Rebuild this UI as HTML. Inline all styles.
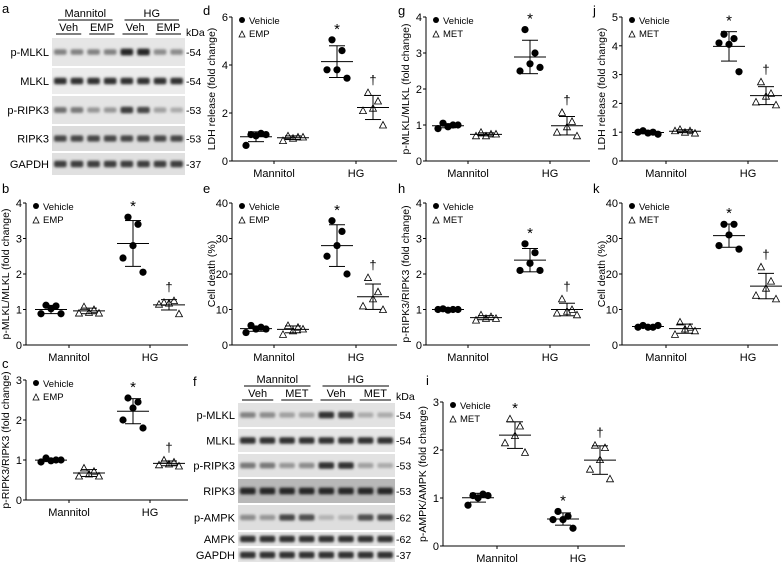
<!DOCTYPE html>
<html><head><meta charset="utf-8"><style>
html,body{margin:0;padding:0;background:#fff}
svg{display:block;font-family:"Liberation Sans",Arial,sans-serif}
</style></head><body>
<svg id="fig" width="783" height="564" viewBox="0 0 783 564" xmlns="http://www.w3.org/2000/svg">
<defs><filter id="blur" x="-20%" y="-100%" width="140%" height="300%"><feGaussianBlur stdDeviation="1.2"/></filter></defs>
</svg>
<script>
// ---- data arrays ----
const categories = ["Mannitol","HG"];
const b_veh_m=[1.12,1.1,1.02,0.88,0.88], b_trt_m=[1.08,1.0,0.92,0.9,0.9], b_veh_h=[3.6,3.4,2.8,2.45,2.05], b_trt_h=[1.2,1.25,1.18,1.15,0.88];
const c_veh_m=[1.05,1.0,0.98,0.95,1.0], c_trt_m=[0.8,0.72,0.65,0.6,0.6], c_veh_h=[2.55,2.45,2.3,2.0,1.8], c_trt_h=[1.0,0.95,0.9,0.88,0.85];
const d_veh_m=[1.1,1.15,1.05,0.65,1.1], d_trt_m=[1.05,1.0,0.95,0.85,1.0], d_veh_h=[5.05,4.6,3.8,3.8,3.45], d_trt_h=[2.85,2.5,2.2,2.1,1.5];
const e_veh_m=[5.5,5,4.5,3.5,4.5], e_trt_m=[5.5,5,4,3,4.5], e_veh_h=[35,32,28,25,20], e_trt_h=[19,15,13,11,10];
const g_veh_m=[1.05,1.0,0.95,0.9,1.0], g_trt_m=[0.8,0.75,0.7,0.7,0.75], g_veh_h=[3.65,3.0,2.7,2.5,2.6], g_trt_h=[1.35,1.1,0.95,0.8,0.7];
const h_veh_m=[1.02,1.0,0.98,1.0,1.0], h_trt_m=[0.85,0.8,0.75,0.7,0.75], h_veh_h=[2.85,2.6,2.3,2.1,2.1], h_trt_h=[1.3,1.0,0.95,0.9,0.85];
const i_veh_m=[1.05,1.08,1.0,0.85,1.05], i_trt_m=[2.65,2.5,2.3,2.15,1.95], i_veh_h=[0.72,0.62,0.55,0.55,0.37], i_trt_h=[2.1,2.05,1.8,1.6,1.4];
const j_veh_m=[1.05,1.0,0.97,1.0,0.93], j_trt_m=[1.1,1.05,1.0,1.05,0.97], j_veh_h=[4.4,4.25,4.05,4.1,3.1], j_trt_h=[2.75,2.35,2.25,2.05,1.95];
const k_veh_m=[5.5,5,5,5,5.5], k_trt_m=[6.5,5,4.5,3,4], k_veh_h=[34,34,31,28,27], k_trt_h=[22,18,16,14,13];
const ticks4=[0,1,2,3,4], ticks3=[0,1,2,3], ticks6=[0,2,4,6], ticks5=[0,1,2,3,4,5], ticks40=[0,10,20,30,40];

const NS="http://www.w3.org/2000/svg", svg=document.getElementById('fig');
function mk(tag,attrs,parent,txt){const e=document.createElementNS(NS,tag);for(const k in attrs)e.setAttribute(k,attrs[k]);if(txt!==undefined)e.textContent=txt;(parent||svg).appendChild(e);return e;}
function mean(a){return a.reduce((s,v)=>s+v,0)/a.length;}
function sd(a){const m=mean(a);return Math.sqrt(a.reduce((s,v)=>s+(v-m)*(v-m),0)/(a.length-1));}
const jit=[-5,5,0,-10,10];

function panel(p){
  const g=mk('g',{});
  
  
  const y=v=>p.y0-(v-p.ticks[0])/(p.ticks[p.ticks.length-1]-p.ticks[0])*(p.y0-p.y1);
  mk('text',{x:p.lx,y:p.ly,'font-size':13},g,p.letter);
  const ax=mk('line',{x1:p.ax,y1:p.y0,x2:p.ax,y2:p.y1,stroke:'#000','stroke-width':1},g);
  
  const xx=mk('line',{x1:p.ax,y1:p.y0,x2:p.xend,y2:p.y0,stroke:'#000','stroke-width':1},g);
  
  p.ticks.forEach(t=>{mk('line',{x1:p.ax-3,x2:p.ax,y1:y(t),y2:y(t),stroke:'#000'},g);
    const tl=mk('text',{x:p.ax-4,y:y(t)+4,'font-size':11,'text-anchor':'end'},g,t);
    });
  categories.forEach((c,i)=>{mk('line',{x1:p.cx[i],x2:p.cx[i],y1:p.y0,y2:p.y0+3,stroke:'#000'},g);
    const cl=mk('text',{x:p.cx[i],y:p.y0+16,'font-size':11,'text-anchor':'middle'},g,c);
    });
  const yt=mk('text',{transform:`translate(${p.ax-17},${(p.y0+p.y1)/2}) rotate(-90)`,'font-size':10.5,'text-anchor':'middle'},g,p.title);
  
  const lg=mk('g',{},g);
  mk('circle',{cx:p.ax+10,cy:p.y1+3,r:3},lg);mk('text',{x:p.ax+17,y:p.y1+7,'font-size':9.5},lg,'Vehicle');
  mk('path',{d:`M${p.ax+7},${p.y1+20} l3,-6 l3,6z`,fill:'none',stroke:'#000','stroke-width':0.8},lg);
  mk('text',{x:p.ax+17,y:p.y1+20,'font-size':9.5},lg,p.trt);
  p.series.forEach(s=>{
    const sg=mk('g',{},g);
    const m=mean(s.v),d=sd(s.v);
    s.v.forEach((v,k)=>{const px=s.x+jit[k];
      if(s.tri){const pt=mk('path',{d:`M${px-3.5},${y(v)+3} l3.5,-6.5 l3.5,6.5z`,fill:'#fff',stroke:'#000','stroke-width':0.8},sg);}
      else{const pt=mk('circle',{cx:px,cy:y(v),r:3.6},sg);}});
    mk('line',{x1:s.x-16,x2:s.x+16,y1:y(m),y2:y(m),stroke:'#000'},sg);
    mk('line',{x1:s.x,x2:s.x,y1:y(m-d),y2:y(m+d),stroke:'#000'},sg);
    mk('line',{x1:s.x-8,x2:s.x+8,y1:y(m-d),y2:y(m-d),stroke:'#000'},sg);
    mk('line',{x1:s.x-8,x2:s.x+8,y1:y(m+d),y2:y(m+d),stroke:'#000'},sg);
    if(s.mark){const top=Math.max(...s.v,m+d);
      const mt=mk('text',{x:s.x,y:y(top)-(s.mark==='*'?6:8),'font-size':s.mark==='*'?15:13,'text-anchor':'middle'},sg,s.mark);
      }
  });
}
function S(vm,tm,vh,th,xs,mk){return [{name:'vehicle-mannitol',v:vm,x:xs[0]},{name:'treated-mannitol',v:tm,x:xs[1],tri:1,mark:mk[1]},{name:'vehicle-hg',v:vh,x:xs[2],mark:mk[2]},{name:'treated-hg',v:th,x:xs[3],tri:1,mark:mk[3]}];}
const colB=[51,89,133,169], colD=[256,293,337,373], colG=[448,486,530,567], colJ=[648,685,729,766], colI=[478,515,563,600];
const std=[null,null,'*','†'];
panel({letter:'b',lx:2,ly:193,ax:26,y0:345,y1:203,xend:188,cx:[69,150],ticks:ticks4,title:'p-MLKL/MLKL (fold change)',trt:'EMP',series:S(b_veh_m,b_trt_m,b_veh_h,b_trt_h,colB,std)});
panel({letter:'c',lx:2,ly:368,ax:26,y0:500,y1:380,xend:188,cx:[69,150],ticks:ticks3,title:'p-RIPK3/RIPK3 (fold change)',trt:'EMP',series:S(c_veh_m,c_trt_m,c_veh_h,c_trt_h,colB,std)});
panel({letter:'d',lx:203,ly:15,ax:232,y0:161,y1:17,xend:397,cx:[274,356],ticks:ticks6,title:'LDH release (fold change)',trt:'EMP',series:S(d_veh_m,d_trt_m,d_veh_h,d_trt_h,colD,std)});
panel({letter:'e',lx:203,ly:193,ax:232,y0:345,y1:203,xend:397,cx:[274,356],ticks:ticks40,title:'Cell death (%)',trt:'EMP',series:S(e_veh_m,e_trt_m,e_veh_h,e_trt_h,colD,std)});
panel({letter:'g',lx:398,ly:15,ax:426,y0:161,y1:17,xend:590,cx:[468,550],ticks:ticks4,title:'p-MLKL/MLKL (fold change)',trt:'MET',series:S(g_veh_m,g_trt_m,g_veh_h,g_trt_h,colG,std)});
panel({letter:'h',lx:398,ly:193,ax:426,y0:345,y1:203,xend:590,cx:[468,550],ticks:ticks4,title:'p-RIPK3/RIPK3 (fold change)',trt:'MET',series:S(h_veh_m,h_trt_m,h_veh_h,h_trt_h,colG,std)});
panel({letter:'i',lx:426,ly:385,ax:443,y0:546,y1:402,xend:625,cx:[497,578],ticks:ticks3,title:'p-AMPK/AMPK (fold change)',trt:'MET',series:S(i_veh_m,i_trt_m,i_veh_h,i_trt_h,colI,[null,'*','*','†'])});
panel({letter:'j',lx:593,ly:15,ax:622,y0:161,y1:17,xend:778,cx:[666,748],ticks:ticks5,title:'LDH release (fold change)',trt:'MET',series:S(j_veh_m,j_trt_m,j_veh_h,j_trt_h,colJ,std)});
panel({letter:'k',lx:593,ly:193,ax:622,y0:345,y1:203,xend:778,cx:[666,748],ticks:ticks40,title:'Cell death (%)',trt:'MET',series:S(k_veh_m,k_trt_m,k_veh_h,k_trt_h,colJ,std)});

// ---- western blots ----
const blotA_rows=["p-MLKL","MLKL","p-RIPK3","RIPK3","GAPDH"], blotA_kda=["54","54","53","53","37"];
const blotA_int=[[.5,.5,.5,.5,.95,.95,.45,.45],[.9,.9,.9,.9,.9,.9,.9,.9],[.6,.55,.4,.4,.85,.8,.35,.3],[.8,.8,.8,.8,.8,.8,.8,.8],[.85,.85,.85,.85,.85,.85,.85,.85]];
const blotF_rows=["p-MLKL","MLKL","p-RIPK3","RIPK3","p-AMPK","AMPK","GAPDH"], blotF_kda=["54","54","53","53","62","62","37"];
const blotF_int=[[.5,.45,.35,.35,.9,.85,.3,.3],[.9,.9,.9,.9,.9,.9,.9,.9],[.55,.55,.4,.45,.9,.9,.35,.3],[.95,.95,.95,.95,.95,.95,.95,.95],[.45,.4,.8,.75,.25,.25,.75,.8],[.9,.9,.9,.9,.9,.9,.9,.9],[.9,.9,.9,.9,.9,.9,.9,.9]];
function blot(o){
  const g=mk('g',{});
  mk('text',{x:o.lx,y:o.ly,'font-size':13},g,o.letter);
  const lw=(o.x1-o.x0)/8;
  o.rows.forEach((r,i)=>{const t=o.tops[i],b=o.tops[i+1]-2;
    const rg=mk('g',{},g);
    mk('rect',{x:o.x0,y:t,width:o.x1-o.x0,height:b-t,fill:o.bg[i]},rg);
    const cy=(t+b)/2;
    o.int[i].forEach((v,k)=>{const c=Math.round(230-v*200);
      mk('rect',{x:o.x0+k*lw+2,y:cy-2.2-v*1.2,width:lw-4,height:4.4+v*2.4,rx:2,fill:`rgb(${c},${c},${c})`,filter:'url(#blur)'},rg);});
    mk('text',{x:o.x0-3,y:cy+4,'font-size':11,'text-anchor':'end'},rg,r);
    mk('text',{x:o.x1+1,y:cy+4,'font-size':10.5},rg,'-'+o.kda[i]);
  });
  mk('text',{x:o.x1+1,y:o.kdaY,'font-size':10.5},g,'kDa');
  [[0,4,'Mannitol'],[4,8,'HG']].forEach(([a,b2,t])=>{const x0=o.x0+a*lw+6,x1=o.x0+b2*lw-6;
    mk('text',{x:(x0+x1)/2,y:o.hy-3,'font-size':11,'text-anchor':'middle'},g,t);mk('line',{x1:x0,x2:x1,y1:o.hy,y2:o.hy,stroke:'#000'},g);});
  [[0,'Veh'],[2,o.trt],[4,'Veh'],[6,o.trt]].forEach(([a,t])=>{const x0=o.x0+a*lw+4,x1=o.x0+(a+2)*lw-4;
    mk('text',{x:(x0+x1)/2,y:o.hy+11,'font-size':11,'text-anchor':'middle'},g,t);mk('line',{x1:x0,x2:x1,y1:o.hy+14,y2:o.hy+14,stroke:'#000'},g);});
}
blot({name:'western-blot-a',letter:'a',lx:2,ly:13,x0:52,x1:185,tops:[38,68,96,126,153,177],rows:blotA_rows,kda:blotA_kda,int:blotA_int,
  bg:['#e6e6e6','#ececec','#e4e4e4','#dcdcdc','#e0e0e0'],hy:20,kdaY:36,trt:'EMP'});
blot({name:'western-blot-f',letter:'f',lx:193,ly:386,x0:238,x1:395,tops:[403,429,454,479,505,532,548,564],rows:blotF_rows,kda:blotF_kda,int:blotF_int,
  bg:['#e2e2e2','#e6e6e6','#e2e2e2','#b8b8b8','#dedede','#e4e4e4','#e4e4e4'],hy:386,kdaY:400,trt:'MET'});
</script>
</body></html>
